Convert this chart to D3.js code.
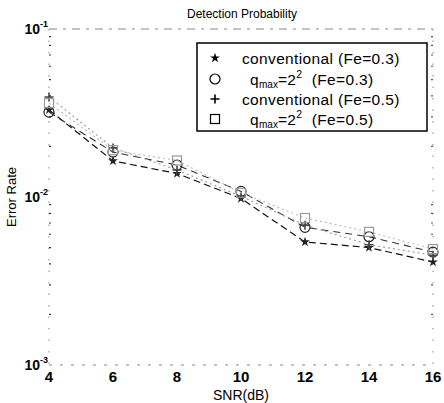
<!DOCTYPE html>
<html><head><meta charset="utf-8">
<script src="https://cdn.jsdelivr.net/npm/d3@7"></script>
<style>body{margin:0;background:#fff}svg{display:block}text{font-family:"Liberation Sans",Arial,sans-serif}</style>
</head><body><svg id="c" width="444" height="403"></svg>
<script>
const snr = [4, 6, 8, 10, 12, 14, 16];
const convFe03 = [0.033, 0.0164, 0.0138, 0.0098, 0.0054, 0.0050, 0.0041];
const qmaxFe03 = [0.032, 0.0185, 0.0155, 0.0108, 0.0066, 0.0058, 0.0047];
const convFe05 = [0.0394, 0.0196, 0.0145, 0.0101, 0.0068, 0.0052, 0.0045];
const qmaxFe05 = [0.0362, 0.0190, 0.0165, 0.0106, 0.0075, 0.0062, 0.0049];
const xTicks = [4, 6, 8, 10, 12, 14, 16];
const yTickExp = [-1, -2, -3];
const legendLabels = ["conventional (Fe=0.3)", "q_max=2^2  (Fe=0.3)", "conventional (Fe=0.5)", "q_max=2^2  (Fe=0.5)"];

const svg = d3.select("#c");
const x = d3.scaleLinear().domain([4, 16]).range([49, 433]);
const y = d3.scaleLog().domain([1e-3, 1e-1]).range([365, 29]);

// frame (faint, broken)
const fr = svg.append("g").attr("stroke", "#888").attr("stroke-width", 1).attr("fill", "none");
fr.append("line").attr("x1", x(4)).attr("x2", x(16)).attr("y1", y(0.1)).attr("y2", y(0.1)).attr("stroke-dasharray", "8,6,3,6");
fr.append("line").attr("x1", x(4)).attr("x2", x(16)).attr("y1", y(0.001)).attr("y2", y(0.001)).attr("stroke-dasharray", "3,8");
fr.append("line").attr("x1", x(4)).attr("x2", x(4)).attr("y1", y(0.1)).attr("y2", y(0.001)).attr("stroke-dasharray", "1.5,10");
fr.append("line").attr("x1", x(16)).attr("x2", x(16)).attr("y1", y(0.1)).attr("y2", y(0.001)).attr("stroke-dasharray", "1.5,10");

// minor ticks
const minors = [];
[1e-3, 1e-2].forEach(b => { for (let k = 2; k <= 9; k++) minors.push(b * k); });
svg.append("g").selectAll("line.ml").data(minors).join("line")
  .attr("x1", x(4)).attr("x2", x(4) + 2).attr("y1", d => y(d)).attr("y2", d => y(d))
  .attr("stroke", "#333").attr("stroke-width", 1.2);
svg.append("g").selectAll("line.mr").data(minors).join("line")
  .attr("x1", x(16) - 2).attr("x2", x(16)).attr("y1", d => y(d)).attr("y2", d => y(d))
  .attr("stroke", "#555").attr("stroke-width", 1.2);

// x tick labels
svg.append("g").selectAll("text").data(xTicks).join("text")
  .attr("x", d => x(d)).attr("y", 382).attr("text-anchor", "middle")
  .attr("font-size", 15).attr("font-weight", "bold").text(d => d);

// y tick labels
const yl = svg.append("g").selectAll("text").data(yTickExp).join("text")
  .attr("x", 48).attr("y", d => y(Math.pow(10, d)) + 5).attr("text-anchor", "end")
  .attr("font-size", 14).attr("font-weight", "bold");
yl.append("tspan").text("10");
yl.append("tspan").attr("font-size", 9).attr("dy", -7).text(d => d);

// axis titles
svg.append("text").attr("x", 242).attr("y", 18).attr("text-anchor", "middle").attr("font-size", 12).text("Detection Probability");
svg.append("text").attr("x", 241).attr("y", 400).attr("text-anchor", "middle").attr("font-size", 14).text("SNR(dB)");
svg.append("text").attr("transform", "translate(16," + y(0.01) + ") rotate(-90)").attr("text-anchor", "middle").attr("font-size", 13).text("Error Rate");

const line = d3.line().x(d => x(d[0])).y(d => y(d[1]));
const series = [
  {vals: convFe03, marker: "star", stroke: "#111", dash: "7,4", w: 1.2},
  {vals: qmaxFe03, marker: "circle", stroke: "#333", dash: "7,5", w: 1.1},
  {vals: convFe05, marker: "plus", stroke: "#999", dash: "2,3", w: 1.1},
  {vals: qmaxFe05, marker: "square", stroke: "#bbb", dash: "2,3", w: 1.1}
];

function drawMarker(g, type, cx, cy, col) {
  if (type === "star") {
    g.append("path").attr("d", d3.symbol(d3.symbolStar, 30)()).attr("transform", `translate(${cx},${cy})`).attr("fill", col);
  } else if (type === "circle") {
    g.append("circle").attr("cx", cx).attr("cy", cy).attr("r", 5).attr("fill", "none").attr("stroke", col).attr("stroke-width", 1.2);
  } else if (type === "plus") {
    g.append("path").attr("d", `M${cx-4.5},${cy}H${cx+4.5}M${cx},${cy-4.5}V${cy+4.5}`).attr("stroke", col).attr("stroke-width", 1.6);
  } else {
    g.append("rect").attr("x", cx - 4.5).attr("y", cy - 4.5).attr("width", 9).attr("height", 9).attr("fill", "none").attr("stroke", col).attr("stroke-width", 1.2);
  }
}

series.forEach(s => {
  const pts = snr.map((v, i) => [v, s.vals[i]]);
  svg.append("path").datum(pts).attr("d", line).attr("fill", "none")
    .attr("stroke", s.stroke).attr("stroke-width", s.w).attr("stroke-dasharray", s.dash);
  const g = svg.append("g");
  pts.forEach(p => drawMarker(g, s.marker, x(p[0]), y(p[1]), s.marker === "square" ? "#999" : (s.marker === "plus" ? "#444" : "#222")));
});

// legend
const lg = svg.append("g");
lg.append("rect").attr("x", 197).attr("y", 43).attr("width", 230).attr("height", 88)
  .attr("fill", "#fff").attr("stroke", "#000").attr("stroke-width", 1.5);
const rowsY = [59, 80, 100, 120];
legendLabels.forEach((lab, i) => {
  drawMarker(lg, series[i].marker, 215, rowsY[i] - 1, "#000");
  const t = lg.append("text").attr("y", rowsY[i] + 5).attr("font-size", 15.5).attr("letter-spacing", 0.35);
  if (lab.startsWith("q_max")) {
    t.attr("x", 250);
    t.append("tspan").text("q");
    t.append("tspan").attr("font-size", 10).attr("dy", 3).attr("letter-spacing", 0).text("max");
    t.append("tspan").attr("dy", -3).text("=2");
    t.append("tspan").attr("font-size", 10.5).attr("dy", -7).text("2");
    t.append("tspan").attr("dy", 7).text("\u00a0 (Fe=" + (i === 1 ? "0.3" : "0.5") + ")");
  } else {
    t.attr("x", 242).text(lab);
  }
});
</script></body></html>
